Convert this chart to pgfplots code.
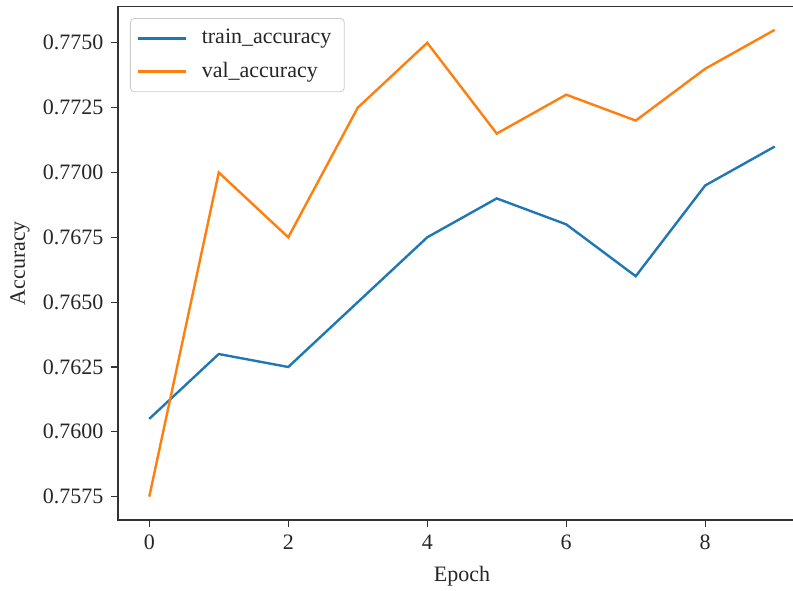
\documentclass[border=0pt]{standalone}
\usepackage{pgfplots}
\pgfplotsset{compat=1.18}
\usepackage{fontspec}
\setmainfont{Liberation Serif}
\definecolor{tabblue}{HTML}{1F77B4}
\definecolor{taborange}{HTML}{FF7F0E}
\definecolor{spine}{HTML}{333333}
\newcommand{\chartfont}{\fontsize{11pt}{13pt}\selectfont}

\begin{document}
\chartfont
\begin{tikzpicture}
% page area: the axis box starts at the origin
\useasboundingbox (-59pt,-35pt) rectangle (337.5pt,260pt);
\begin{axis}[
  at={(0,0)}, anchor=south west,
  scale only axis, width=344pt, height=256.75pt,
  xmin=-0.45, xmax=9.45, ymin=0.7566, ymax=0.7764,
  xtick={0,2,4,6,8},
  ytick={0.7575,0.7600,0.7625,0.7650,0.7675,0.7700,0.7725,0.7750},
  scaled y ticks=false,
  yticklabel style={/pgf/number format/.cd, fixed, fixed zerofill, precision=4},
  /pgf/number format/assume math mode=true,
  tick align=outside, tick pos=left,
  major tick length=3.5pt,
  every tick/.style={spine, line width=0.6pt},
  axis line style={spine, line width=0.8pt},
  ticklabel style={font=\chartfont, text=black!85},
  label style={font=\chartfont, text=black!85},
  xlabel={Epoch}, ylabel={Accuracy},
  xlabel style={yshift=-1pt},
  ylabel style={yshift=-1pt},
  legend cell align=left,
  legend style={at={(axis description cs:0,1)}, anchor=north west,
    xshift=6pt, yshift=-5.75pt, draw=black!20, rounded corners=2pt,
    fill=white, fill opacity=0.8, text opacity=1,
    font=\chartfont, text=black!85,
    row sep=3.5pt, inner xsep=3pt, inner ysep=3.5pt,
    nodes={inner xsep=3.5pt}},
  legend image code/.code={\draw[#1] (0pt,0pt) -- (24pt,0pt); \path (28pt,0pt);},
]
\addplot[tabblue, line width=1.2pt] coordinates {
  (0,0.7605) (1,0.7630) (2,0.7625) (3,0.7650) (4,0.7675)
  (5,0.7690) (6,0.7680) (7,0.7660) (8,0.7695) (9,0.7710)};
\addlegendentry{train\_accuracy}
\addplot[taborange, line width=1.2pt] coordinates {
  (0,0.7575) (1,0.7700) (2,0.7675) (3,0.7725) (4,0.7750)
  (5,0.7715) (6,0.7730) (7,0.7720) (8,0.7740) (9,0.7755)};
\addlegendentry{val\_accuracy}
\end{axis}
\end{tikzpicture}
\end{document}
